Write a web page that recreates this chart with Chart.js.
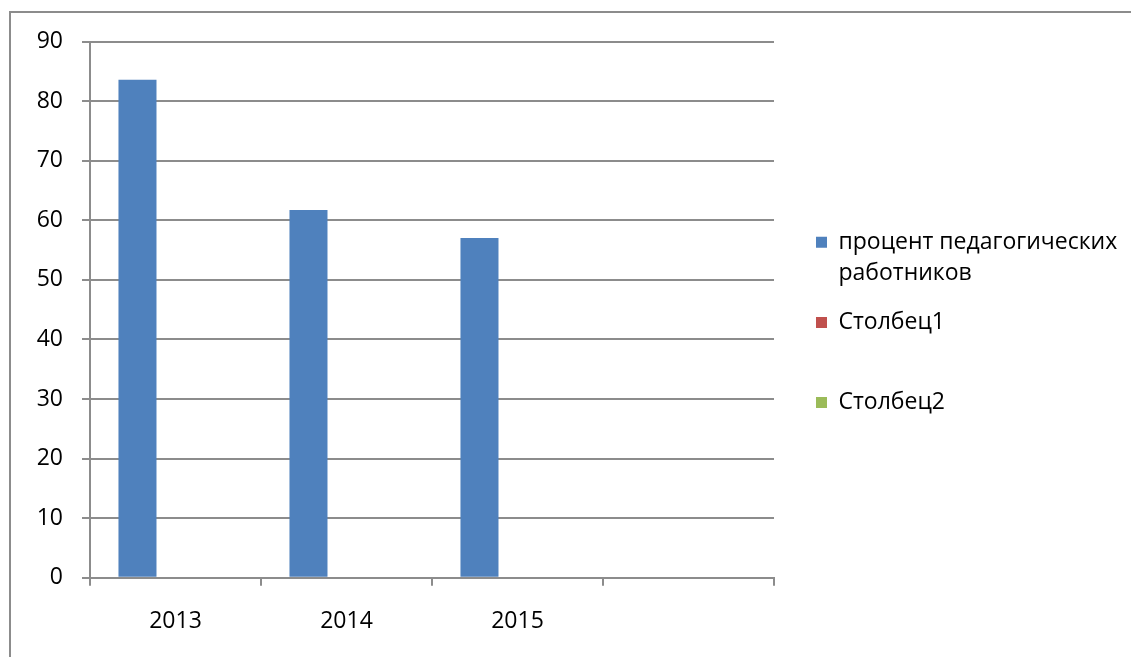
<!DOCTYPE html>
<html>
<head>
<meta charset="utf-8">
<script src="https://cdn.jsdelivr.net/npm/chart.js@4.4.1/dist/chart.umd.min.js"></script>
<style>
  html, body { margin: 0; padding: 0; background: #fff; }
  #wrap { position: relative; width: 1131px; height: 657px; overflow: hidden; }
  #frame { position: absolute; left: 9px; top: 11px; width: 1300px; height: 800px;
           border-left: 2px solid #8c8c8c; border-top: 2px solid #8c8c8c; }
  #chart { position: absolute; left: 0; top: 0; }
</style>
</head>
<body>
<div id="wrap">
  <div id="frame"></div>
  <canvas id="chart" width="1131" height="657"></canvas>
</div>
<script>
// categories (last one is an empty slot, as in the original sheet)
var years = ["2013", "2014", "2015", ""];
var seriesNames = ["процент педагогических работников", "Столбец1", "Столбец2"];
var teachers = [83.6, 61.7, 57.0, null];
var col1 = [null, null, null, null];
var col2 = [null, null, null, null];
var yTicks = [0, 10, 20, 30, 40, 50, 60, 70, 80, 90];

var gridGray = "#8c8c8c";
Chart.defaults.font.family = "'Open Sans'";
Chart.defaults.font.size = 23;
Chart.defaults.color = "#000";

new Chart(document.getElementById("chart"), {
  type: 'bar',
  data: {
    labels: years,
    datasets: [
      { label: seriesNames[0], data: teachers, backgroundColor: "#4f81bd" },
      { label: seriesNames[1], data: col1, backgroundColor: "#c0504d" },
      { label: seriesNames[2], data: col2, backgroundColor: "#9bbb59" }
    ]
  },
  options: {
    responsive: false,
    animation: false,
    categoryPercentage: 0.667,
    barPercentage: 1.0,
    layout: { padding: { left: 30, top: 41.5, right: 3.76, bottom: 14.5 } },
    scales: {
      x: {
        offset: true,
        grid: { offset: true, drawOnChartArea: false, drawTicks: true, tickLength: 8, color: gridGray, lineWidth: 2 },
        border: { color: gridGray, width: 2 },
        ticks: { padding: 22, maxRotation: 0 },
        afterFit: function(s) { s.height = 64.8; }
      },
      y: {
        min: 0,
        max: 90,
        afterBuildTicks: function(s) { s.ticks = yTicks.map(function(v) { return { value: v }; }); },
        grid: { color: gridGray, lineWidth: 2, tickLength: 8 },
        border: { color: gridGray, width: 2 },
        ticks: { padding: 19 },
        afterFit: function(s) { s.width = 60; }
      },
      // empty gap between plot and legend
      ySpacer: {
        type: 'linear',
        position: 'right',
        grid: { display: false },
        border: { display: false },
        ticks: { display: false },
        afterFit: function(s) { s.width = 24; }
      }
    },
    plugins: {
      legend: {
        position: 'right',
        align: 'center',
        maxWidth: 500,
        labels: {
          boxWidth: 11,
          boxHeight: 11,
          padding: 18,
          font: { size: 23, lineHeight: 1.35 },
          generateLabels: function(c) {
            var items = Chart.defaults.plugins.legend.labels.generateLabels(c);
            items.forEach(function(it, i) {
              // two-line slot per entry, like the sheet legend
              it.text = i === 0 ? ["процент педагогических", "работников"] : [it.text, ""];
              it.lineWidth = 0;
            });
            return items;
          }
        }
      }
    }
  }
});
</script>
</body>
</html>
